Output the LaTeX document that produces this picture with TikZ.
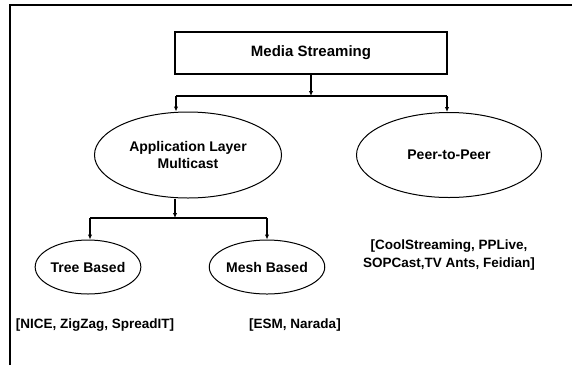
\documentclass[tikz,border=0pt]{standalone}
\usepackage{fontspec}
\setmainfont{Liberation Sans}
\usetikzlibrary{shapes.geometric, arrows.meta, positioning}
\tikzset{
  x=1pt, y=-1pt,
  >={Latex[length=5pt,width=4.5pt]},
  every node/.style={font=\fontsize{14}{17}\selectfont\bfseries, align=center},
  topbox/.style={draw, line width=1.2pt, minimum width=272pt, minimum height=42pt,
    font=\fontsize{15}{17}\selectfont\bfseries},
  oval/.style={draw, ellipse, line width=1pt, inner sep=0pt},
  tag/.style={inner sep=0pt, font=\fontsize{13.5}{18.5}\selectfont\bfseries},
  link/.style={line width=1.8pt},
}

\begin{document}
\begin{tikzpicture}
		\useasboundingbox (0,0) rectangle (572,365);

		% frame
		\draw[line width=1.2pt] (10,365) -- (10,5) -- (572,5);

		% nodes
		\node[topbox] (media) at (311,53) {Media Streaming};
		\node[oval, minimum width=187pt, minimum height=86pt] (alm) at (188,155) {Application Layer\\Multicast};
		\node[oval, minimum width=185pt, minimum height=85pt] (p2p) at (449,155) {Peer-to-Peer};
		\node[oval, minimum width=101pt, minimum height=54pt] (tree) at (88,267) {Tree Based};
		\node[oval, minimum width=108pt, minimum height=54pt] (mesh) at (267,267) {Mesh Based};

		% examples
		\node[tag] (p2pex) at (449,255) {[CoolStreaming, PPLive,\\SOPCast,TV Ants, Feidian]};
		\node[tag] (treeex) at (95,325) {[NICE, ZigZag, SpreadIT]};
		\node[tag] (meshex) at (295,325) {[ESM, Narada]};

		% split points
		\coordinate (s1) at (311,96);
		\coordinate (s1l) at (176,96);
		\coordinate (s1r) at (447,96);
		\coordinate (s2) at (175,218);
		\coordinate (s2l) at (90,218);
		\coordinate (s2r) at (267,218);

		% connectors
		\draw[link, ->] (media.south) -- (s1);
		\draw[link] (s1l) -- (s1r);
		\draw[link, ->] (s1l) -- (alm.north -| s1l);
		\draw[link, ->] (s1r) -- (p2p.north -| s1r);
		\draw[link, ->] (alm.south -| s2) -- (s2);
		\draw[link] (s2l) -- (s2r);
		\draw[link, ->] (s2l) -- (tree.north -| s2l);
		\draw[link, ->] (s2r) -- (mesh.north);

	\end{tikzpicture}
\end{document}
